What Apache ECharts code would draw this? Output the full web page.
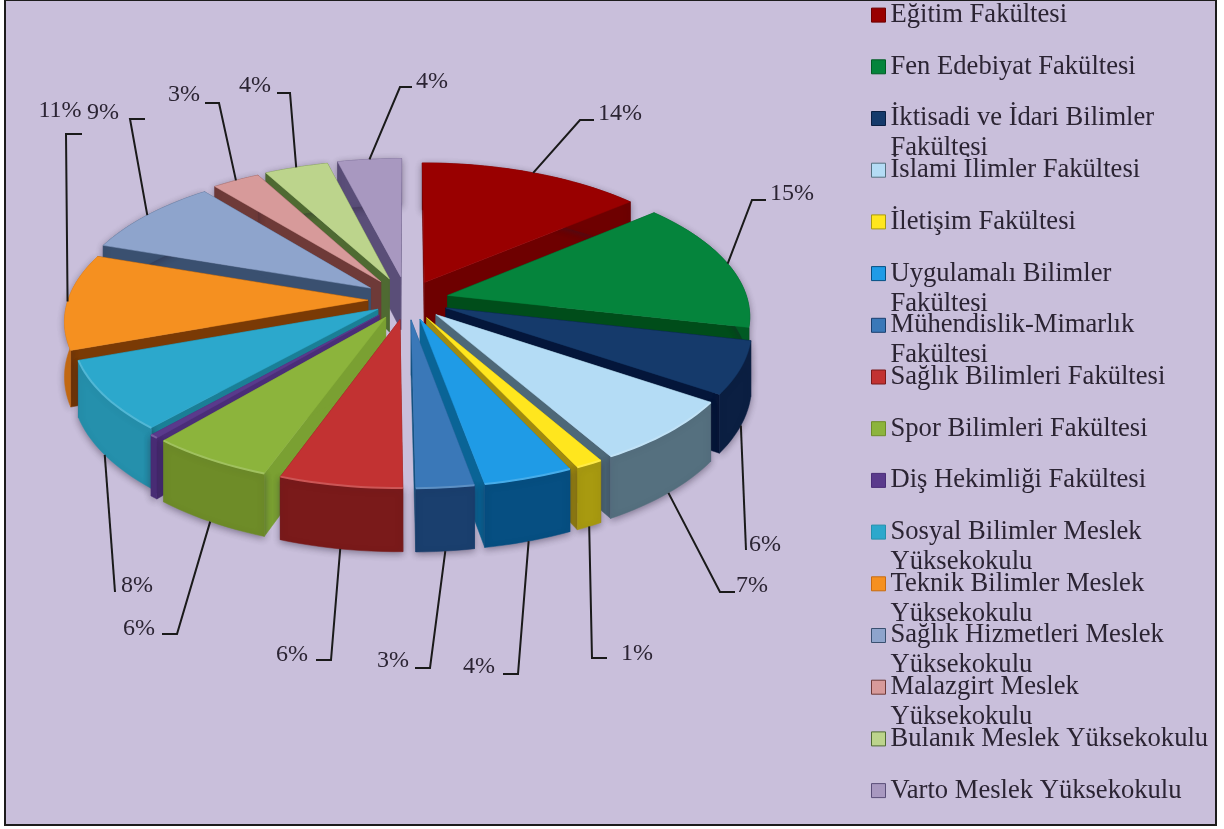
<!DOCTYPE html>
<html><head><meta charset="utf-8">
<style>html,body{margin:0;padding:0;background:#fff}#c{width:1224px;height:829px}</style>
<script src="https://cdn.jsdelivr.net/npm/echarts@6/dist/echarts.min.js"></script>
</head><body><div id="c"></div>
<script>
const categories = ['Eğitim Fakültesi','Fen Edebiyat Fakültesi','İktisadi ve İdari Bilimler Fakültesi','İslami İlimler Fakültesi','İletişim Fakültesi','Uygulamalı Bilimler Fakültesi','Mühendislik-Mimarlık Fakültesi','Sağlık Bilimleri Fakültesi','Spor Bilimleri Fakültesi','Diş Hekimliği Fakültesi','Sosyal Bilimler Meslek Yüksekokulu','Teknik Bilimler Meslek Yüksekokulu','Sağlık Hizmetleri Meslek Yüksekokulu','Malazgirt Meslek Yüksekokulu','Bulanık Meslek Yüksekokulu','Varto Meslek Yüksekokulu'];
const values = [14,15,6,7.35,1.28,4.2,2.7,5.75,5.75,0.4,8,11,9,3,4,4];
const wrapped = {
 'İktisadi ve İdari Bilimler Fakültesi':['İktisadi ve İdari Bilimler','Fakültesi'],
 'Uygulamalı Bilimler Fakültesi':['Uygulamalı Bilimler','Fakültesi'],
 'Mühendislik-Mimarlık Fakültesi':['Mühendislik-Mimarlık','Fakültesi'],
 'Sosyal Bilimler Meslek Yüksekokulu':['Sosyal Bilimler Meslek','Yüksekokulu'],
 'Teknik Bilimler Meslek Yüksekokulu':['Teknik Bilimler Meslek','Yüksekokulu'],
 'Sağlık Hizmetleri Meslek Yüksekokulu':['Sağlık Hizmetleri Meslek','Yüksekokulu'],
 'Malazgirt Meslek Yüksekokulu':['Malazgirt Meslek','Yüksekokulu']
};
// colours: top face, outer wall, cut face
const topColors  = ['#990000','#05843c','#153a6b','#b4dcf5','#ffe61e','#1f9be6','#3a78b8','#c23232','#8cb43c','#5a3a8c','#2ca8cc','#f59020','#8ea4cc','#d79a9a','#bcd48c','#a898c0'];
const wallColors = ['#6e0000','#005c24','#0b1f42','#55707f','#a89a10','#064f82','#1a3f6e','#7a1a1a','#6e8c28','#4a2d78','#2590ac','#c76b12','#3a5070','#6e3a38','#4f6a32','#5a4e78'];
const cutColors  = ['#6e0000','#004d1a','#04163a','#4d6878','#a08a10','#0a6496','#12507e','#7a1a1a','#7aa032','#4a2d78','#1a7f96','#7a3a05','#3a5070','#6e3a38','#4f6a32','#5a4e78'];
// per-slice explosion distance (layout, not data)
const explode = [.14,.14,.14,.14,.14,.14,.14,.14,.14,.14,.116,.13,.15,.16,.165,.17];
// leader-line layout, separate from the data: elbow x,y, end x,y, label centre x,y
const leaderLayout = [
 [580,120,594,120,620,114],[752,200,766,200,792,194],[746,550,746,550,765,545],[720,592,735,592,752,586],
 [592,658,607,658,637,654],[518,674,503,674,479,667],[430,668,415,668,393,661],[331,660,316,660,292,655],
 [177,634,162,634,139,629],null,[115,592,115,592,137,586],[66,134,82,134,60,111],
 [130,119,145,119,103,113],[219,103,205,103,184,95],[290,93,277,93,255,86],[400,87,412,87,432,82]
];
const cx=407, cy=300, rx=300, ry=140, k=0.134, h=54;
const fontFamily='"Liberation Serif","Times New Roman",serif';
const total = values.reduce((a,b)=>a+b,0);
let acc=0;
const slices = values.map((v,i)=>{const a0=acc/total*2*Math.PI; acc+=v; const a1=acc/total*2*Math.PI; return {i,a0,a1,m:(a0+a1)/2,e:explode[i]};});
function proj(wx,wy,z){const s=1/(1-k*wy);return [cx+rx*wx*s, cy+(ry*wy+z)*s];}
function pt(sl,a,r,z){return proj(r*Math.sin(a)+sl.e*Math.sin(sl.m), -r*Math.cos(a)-sl.e*Math.cos(sl.m), z);}
function arc(sl,z){const n=Math.max(2,Math.ceil((sl.a1-sl.a0)/0.03)),p=[];for(let j=0;j<=n;j++)p.push(pt(sl,sl.a0+(sl.a1-sl.a0)*j/n,1,z));return p;}
function renderSlice(sl){
  return function(){
    const i=sl.i, tip=pt(sl,0,0,0), tipB=pt(sl,0,0,h), top=arc(sl,0), bot=arc(sl,h);
    const kids=[];
    const poly=(points,fill,extra)=>kids.push({type:'polygon',shape:{points},style:Object.assign({fill,stroke:fill,lineWidth:0.5},extra||{})});
    poly([tip,top[0],bot[0],tipB],cutColors[i]);
    poly([tip,top[top.length-1],bot[bot.length-1],tipB],cutColors[i]);
    poly(top.concat(bot.slice().reverse()),wallColors[i],{shadowBlur:7,shadowColor:'rgba(40,30,50,0.45)',shadowOffsetY:2});
    poly([tip].concat(top),topColors[i]);
    const my=-Math.cos(sl.m);
    if(my>0.5) kids.push({type:'polyline',shape:{points:top},style:{fill:null,stroke:echarts.color.lift(topColors[i],0.18),lineWidth:2}});
    const L=leaderLayout[i];
    if(L){
      const st=pt(sl,sl.m,1,my>0.1?h:0);
      kids.push({type:'polyline',shape:{points:[st,[L[0],L[1]],[L[2],L[3]]]},style:{fill:null,stroke:'#1a1a1a',lineWidth:2}});
      kids.push({type:'text',style:{text:Math.round(values[i])+'%',x:L[4],y:L[5],align:'center',verticalAlign:'middle',fill:'#2b2433',font:'24px '+fontFamily}});
    }
    return {type:'group',children:kids};
  };
}
const order = slices.slice().sort((a,b)=>(-Math.cos(a.m))-(-Math.cos(b.m)));
const series = order.map(sl=>({
  type:'custom', name:categories[sl.i], coordinateSystem:'none', silent:true, animation:false,
  itemStyle:{color:topColors[sl.i]}, data:[[values[sl.i]]], renderItem:renderSlice(sl)
}));
const legends = categories.map((n,i)=>({
  orient:'vertical',left:871,top:1.6+i*51.7,padding:0,itemWidth:14,itemHeight:14,selectedMode:false,
  icon:'rect',data:[n],itemStyle:{borderColor:wallColors[i],borderWidth:1},
  formatter:name=>{const w=wrapped[name];return w?'{a|'+w[0]+'}\n{b|'+w[1]+'}':'{a|'+name+'}';},
  textStyle:{fontFamily,fontSize:26.6,color:'#2b2433',
    rich:{a:{fontFamily,fontSize:26.6,color:'#2b2433',lineHeight:30},
          b:{fontFamily,fontSize:26.6,color:'#2b2433',lineHeight:0,padding:[30,0,0,0]}}}
}));
const chart=echarts.init(document.getElementById('c'),null,{renderer:'canvas'});
chart.setOption({
  animation:false,
  graphic:[{type:'rect',z:-10,shape:{x:5,y:0,width:1211,height:825},style:{fill:'#c9bfdb',stroke:'#1c1c1c',lineWidth:2}}],
  legend:legends,
  series
});
</script></body></html>
